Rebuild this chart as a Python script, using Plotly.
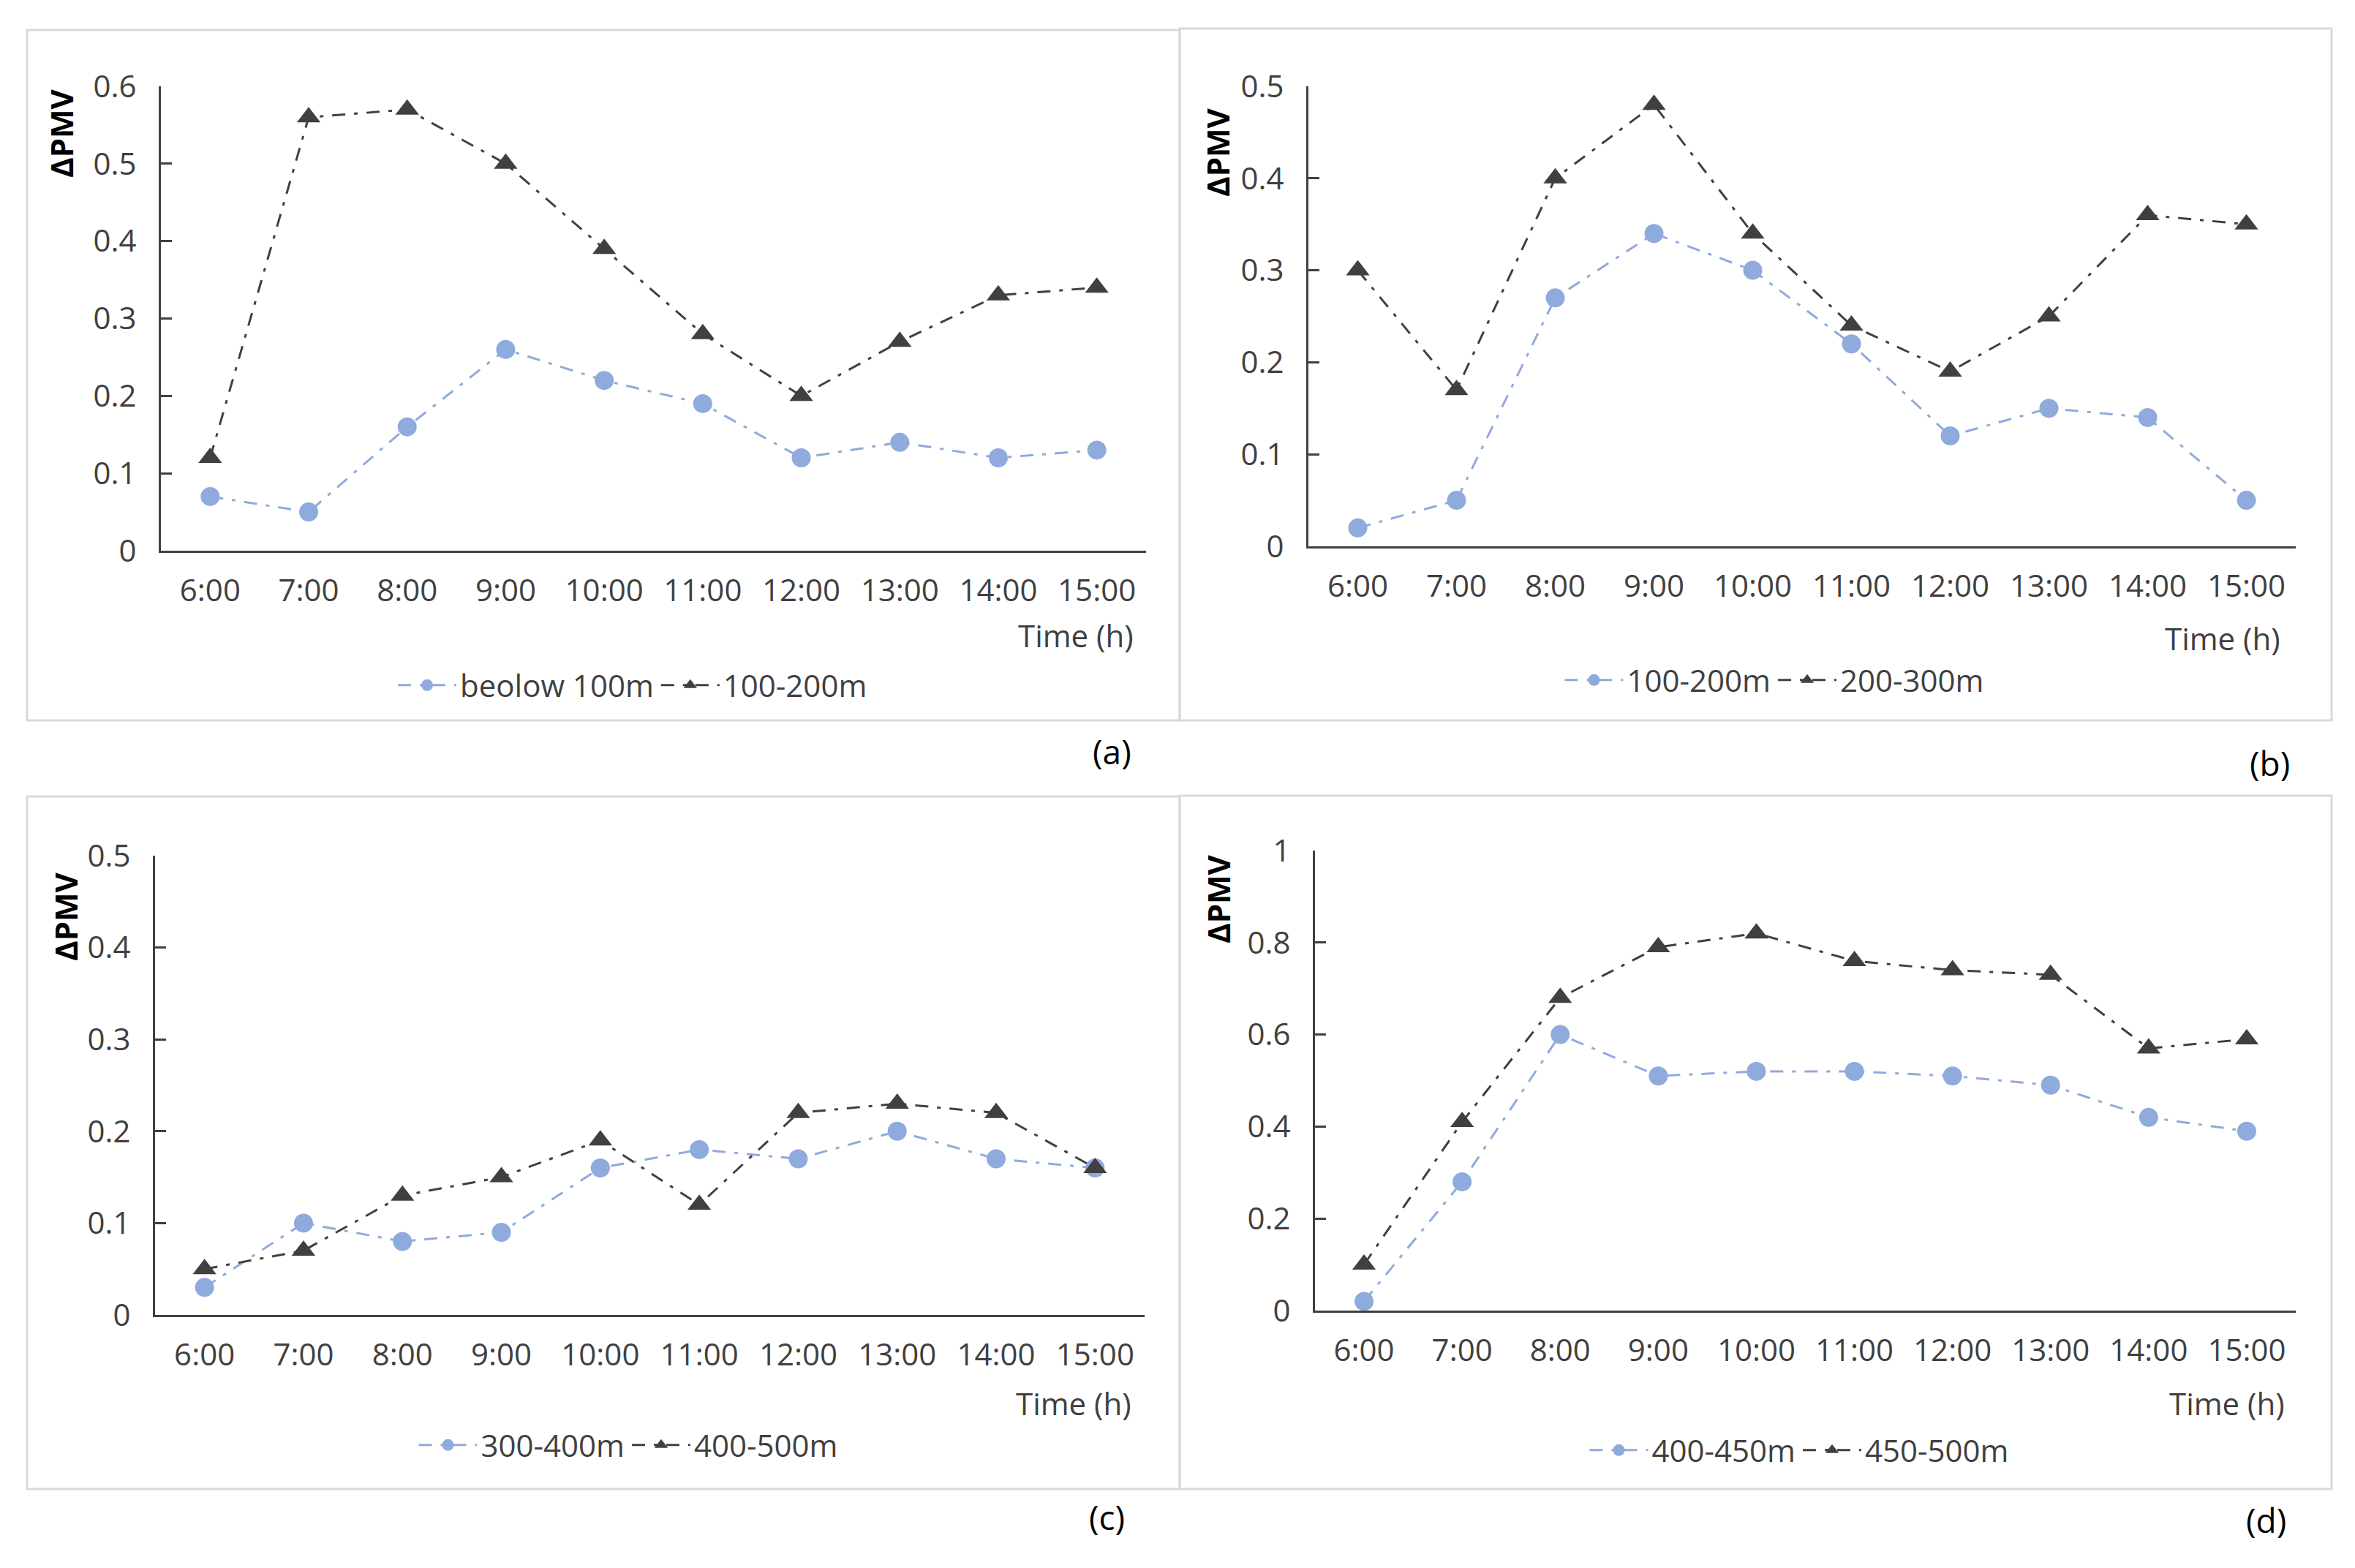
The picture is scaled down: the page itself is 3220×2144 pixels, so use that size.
import plotly.graph_objects as go

W, H = 3220, 2144

times = ["6:00", "7:00", "8:00", "9:00", "10:00", "11:00", "12:00", "13:00", "14:00", "15:00"]

# panel (a)
a_names = ["beolow 100m", "100-200m"]
a_s1 = [0.07, 0.05, 0.16, 0.26, 0.22, 0.19, 0.12, 0.14, 0.12, 0.13]
a_s2 = [0.12, 0.56, 0.57, 0.50, 0.39, 0.28, 0.20, 0.27, 0.33, 0.34]
a_yvals = [0, 0.1, 0.2, 0.3, 0.4, 0.5, 0.6]
a_ytext = ["0", "0.1", "0.2", "0.3", "0.4", "0.5", "0.6"]

# panel (b)
b_names = ["100-200m", "200-300m"]
b_s1 = [0.02, 0.05, 0.27, 0.34, 0.30, 0.22, 0.12, 0.15, 0.14, 0.05]
b_s2 = [0.30, 0.17, 0.40, 0.48, 0.34, 0.24, 0.19, 0.25, 0.36, 0.35]
b_yvals = [0, 0.1, 0.2, 0.3, 0.4, 0.5]
b_ytext = ["0", "0.1", "0.2", "0.3", "0.4", "0.5"]

# panel (c)
c_names = ["300-400m", "400-500m"]
c_s1 = [0.03, 0.10, 0.08, 0.09, 0.16, 0.18, 0.17, 0.20, 0.17, 0.16]
c_s2 = [0.05, 0.07, 0.13, 0.15, 0.19, 0.12, 0.22, 0.23, 0.22, 0.16]
c_yvals = [0, 0.1, 0.2, 0.3, 0.4, 0.5]
c_ytext = ["0", "0.1", "0.2", "0.3", "0.4", "0.5"]

# panel (d)
d_names = ["400-450m", "450-500m"]
d_s1 = [0.02, 0.28, 0.60, 0.51, 0.52, 0.52, 0.51, 0.49, 0.42, 0.39]
d_s2 = [0.10, 0.41, 0.68, 0.79, 0.82, 0.76, 0.74, 0.73, 0.57, 0.59]
d_yvals = [0, 0.2, 0.4, 0.6, 0.8, 1.0]
d_ytext = ["0", "0.2", "0.4", "0.6", "0.8", "1"]

panel_labels = ["(a)", "(b)", "(c)", "(d)"]
x_title = "Time (h)"
y_title = "ΔPMV"

FONT = "Open Sans"
FS = 42
TXT = "#404040"
BLUE = "#8FAADC"
DARK = "#404040"
DASH = "18px,12px,5px,12px"


def px(x):
    return x / W


def py(y):
    return 1 - y / H


# layout geometry in pixels
panels = [
    dict(names=a_names, s1=a_s1, s2=a_s2, yv=a_yvals, yt=a_ytext, ymax=0.6,
         x0=220, x1=1567, y0=118, y1=753, box=(37, 41, 1613, 985),
         tx=1552, ty=868, yx=84, yy=182, lx=1520, ly=1027, legx=865, legy=937),
    dict(names=b_names, s1=b_s1, s2=b_s2, yv=b_yvals, yt=b_ytext, ymax=0.5,
         x0=1789, x1=3139, y0=118, y1=747, box=(1613, 39, 3188, 985),
         tx=3120, ty=872, yx=1665, yy=208, lx=3103, ly=1043, legx=2426, legy=930),
    dict(names=c_names, s1=c_s1, s2=c_s2, yv=c_yvals, yt=c_ytext, ymax=0.5,
         x0=212, x1=1565, y0=1170, y1=1798, box=(37, 1089, 1613, 2036),
         tx=1549, ty=1918, yx=90, yy=1253, lx=1513, ly=2074, legx=859, legy=1976),
    dict(names=d_names, s1=d_s1, s2=d_s2, yv=d_yvals, yt=d_ytext, ymax=1.0,
         x0=1798, x1=3139, y0=1163, y1=1792, box=(1613, 1088, 3188, 2036),
         tx=3126, ty=1918, yx=1665, yy=1229, lx=3098, ly=2078, legx=2460, legy=1983),
]

fig = go.Figure()
layout = dict(
    width=W, height=H,
    margin=dict(l=0, r=0, t=0, b=0, pad=0, autoexpand=False),
    paper_bgcolor="white", plot_bgcolor="white",
    font=dict(family=FONT, size=FS, color=TXT),
    showlegend=True,
    shapes=[], annotations=[],
)

for i, p in enumerate(panels):
    k = i + 1
    sfx = "" if k == 1 else str(k)
    leg = "legend" if k == 1 else f"legend{k}"
    fig.add_trace(go.Scatter(
        x=times, y=p["s1"], name=p["names"][0], mode="lines+markers",
        xaxis="x" + sfx, yaxis="y" + sfx, legend=leg,
        line=dict(color=BLUE, width=3, dash=DASH),
        marker=dict(symbol="circle", size=26, color=BLUE),
        cliponaxis=False,
    ))
    fig.add_trace(go.Scatter(
        x=times, y=p["s2"], name=p["names"][1], mode="lines+markers",
        xaxis="x" + sfx, yaxis="y" + sfx, legend=leg,
        line=dict(color=DARK, width=3, dash=DASH),
        marker=dict(symbol="triangle-up", size=28, color=DARK),
        cliponaxis=False,
    ))
    layout["xaxis" + sfx] = dict(
        domain=[px(p["x0"]), px(p["x1"])], anchor="y" + sfx,
        type="category", categoryorder="array", categoryarray=times,
        range=[-0.5, 9.5], showline=True, linecolor=DARK, linewidth=3,
        ticks="", showgrid=False, zeroline=False, ticklabelstandoff=16,
        automargin=False,
        tickfont=dict(family=FONT, size=FS, color=TXT), fixedrange=True,
    )
    layout["yaxis" + sfx] = dict(
        domain=[py(p["y1"]), py(p["y0"])], anchor="x" + sfx,
        range=[0, p["ymax"]], tickmode="array", tickvals=p["yv"], ticktext=p["yt"],
        showline=True, linecolor=DARK, linewidth=3,
        ticks="inside", ticklen=15, tickwidth=3, tickcolor=DARK,
        showgrid=False, zeroline=False, ticklabelstandoff=22, automargin=False,
        tickfont=dict(family=FONT, size=FS, color=TXT), fixedrange=True,
    )
    layout[leg] = dict(
        orientation="h", x=px(p["legx"]), xanchor="center",
        y=py(p["legy"]), yanchor="middle", itemwidth=80,
        font=dict(family=FONT, size=FS, color=TXT), bgcolor="rgba(0,0,0,0)",
        itemsizing="trace",
    )
    bx0, by0, bx1, by1 = p["box"]
    layout["shapes"].append(dict(
        type="rect", xref="paper", yref="paper",
        x0=px(bx0), x1=px(bx1), y0=py(by1), y1=py(by0),
        line=dict(color="#D9D9D9", width=3), fillcolor="rgba(0,0,0,0)", layer="below",
    ))
    layout["annotations"].append(dict(
        text=x_title, xref="paper", yref="paper", x=px(p["tx"]), y=py(p["ty"]),
        xanchor="right", yanchor="middle", showarrow=False,
        font=dict(family=FONT, size=FS, color=TXT),
    ))
    layout["annotations"].append(dict(
        text="<b>" + y_title + "</b>", xref="paper", yref="paper", x=px(p["yx"]), y=py(p["yy"]),
        xanchor="center", yanchor="middle", showarrow=False, textangle=-90,
        font=dict(family=FONT, size=FS, color="#000000"),
    ))
    layout["annotations"].append(dict(
        text=panel_labels[i], xref="paper", yref="paper", x=px(p["lx"]), y=py(p["ly"]),
        xanchor="center", yanchor="middle", showarrow=False,
        font=dict(family=FONT, size=FS + 4, color="#000000"),
    ))

fig.update_layout(**layout)
fig.write_html(
    "out.html",
    config={"displayModeBar": False},
    post_script="document.body.style.margin='0';document.body.style.overflow='hidden';",
)
